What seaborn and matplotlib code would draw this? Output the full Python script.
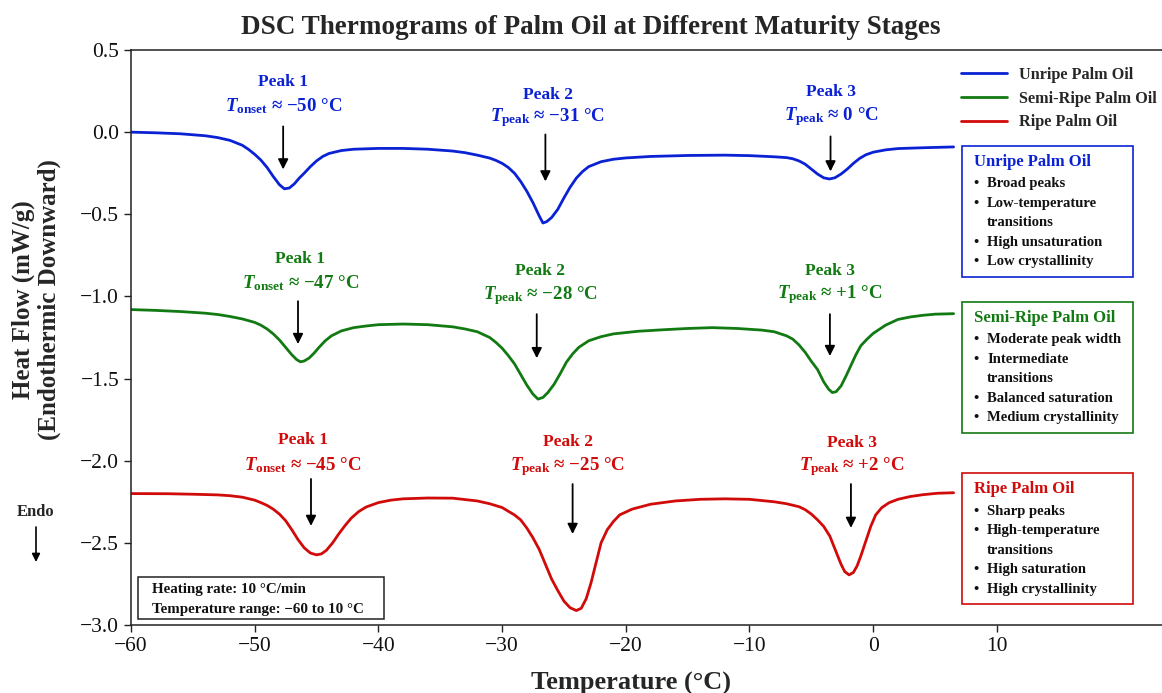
import numpy as np
import pandas as pd
import matplotlib
matplotlib.use('Agg')
import matplotlib.pyplot as plt
from matplotlib.patches import Rectangle, FancyArrowPatch
import seaborn as sns

sns.set_style('ticks')
plt.rcParams['font.family'] = ['Liberation Serif', 'DejaVu Serif']
plt.rcParams['mathtext.fontset'] = 'custom'
plt.rcParams['mathtext.rm'] = 'Liberation Serif:bold'
plt.rcParams['mathtext.it'] = 'Liberation Serif:italic:bold'
plt.rcParams['mathtext.bf'] = 'Liberation Serif:bold'

W, H = 1162, 693

# ---------------------------------------------------------------- data
SAMPLES = ['Unripe Palm Oil', 'Semi-Ripe Palm Oil', 'Ripe Palm Oil']
COLORS = ['#0a22d4', '#127a12', '#d10a0a']

UNRIPE_T = [-60, -58, -56, -54, -53, -52, -51, -50.5, -50, -49.5,
            -49, -48.5, -48, -47.6, -47.2, -46.8, -46.4, -46, -45.5, -45,
            -44.5, -44, -43, -42, -40, -38, -36, -34, -33, -32,
            -31, -30.5, -30, -29.5, -29, -28.5, -28, -27.5, -27, -26.7,
            -26.4, -26, -25.5, -25, -24.5, -24, -23.5, -23, -22, -21,
            -20, -18, -15, -12, -10, -8, -7, -6.5, -6, -5.5,
            -5, -4.5, -4, -3.55, -3.1, -2.6, -2.1, -1.6, -1.1, -0.6,
            0, 1, 2, 4, 6.5]
UNRIPE_HF = [0.000, -0.004, -0.010, -0.022, -0.033, -0.050, -0.080, -0.105, -0.135, -0.170,
             -0.215, -0.270, -0.320, -0.345, -0.340, -0.315, -0.280, -0.250, -0.210, -0.175,
             -0.148, -0.130, -0.112, -0.104, -0.099, -0.099, -0.104, -0.115, -0.125, -0.140,
             -0.158, -0.172, -0.190, -0.215, -0.250, -0.300, -0.360, -0.430, -0.510, -0.553,
             -0.545, -0.520, -0.470, -0.400, -0.335, -0.280, -0.240, -0.210, -0.180, -0.165,
             -0.157, -0.148, -0.142, -0.140, -0.143, -0.150, -0.155, -0.162, -0.175, -0.195,
             -0.225, -0.255, -0.278, -0.285, -0.278, -0.255, -0.225, -0.190, -0.160, -0.138,
             -0.122, -0.108, -0.100, -0.095, -0.090]

SEMI_T = [-60, -58, -56, -54, -53, -52, -51, -50, -49.5, -49,
          -48.5, -48, -47.5, -47, -46.6, -46.3, -46, -45.6, -45.2, -44.8,
          -44.3, -43.8, -43, -42, -41, -40, -38, -36, -34, -33,
          -32, -31, -30.5, -30, -29.5, -29, -28.5, -28, -27.5, -27.1,
          -26.7, -26.3, -25.8, -25.3, -24.8, -24.3, -23.8, -23, -22, -21,
          -19, -17, -15, -13, -11, -9, -8, -7, -6.5, -6,
          -5.5, -5, -4.5, -4, -3.6, -3.3, -3.0, -2.6, -2.2, -1.8,
          -1.4, -1, -0.5, 0, 1, 2, 3, 4, 5, 6.5]
SEMI_HF = [-1.080, -1.085, -1.092, -1.102, -1.110, -1.122, -1.137, -1.158, -1.175, -1.198,
           -1.228, -1.265, -1.310, -1.355, -1.385, -1.398, -1.393, -1.375, -1.345, -1.310,
           -1.270, -1.240, -1.210, -1.190, -1.180, -1.172, -1.168, -1.172, -1.185, -1.198,
           -1.215, -1.250, -1.280, -1.315, -1.360, -1.410, -1.475, -1.540, -1.595, -1.625,
           -1.615, -1.585, -1.535, -1.470, -1.400, -1.350, -1.310, -1.270, -1.245, -1.228,
           -1.212, -1.203, -1.195, -1.190, -1.195, -1.205, -1.215, -1.240, -1.260, -1.295,
           -1.340, -1.395, -1.445, -1.520, -1.565, -1.585, -1.580, -1.545, -1.485, -1.420,
           -1.355, -1.300, -1.260, -1.225, -1.175, -1.140, -1.125, -1.115, -1.108, -1.105]

RIPE_T = [-60, -57, -55, -53, -52, -51, -50, -49.5, -49, -48.5,
          -48, -47.5, -47, -46.5, -46, -45.5, -45, -44.6, -44.2, -43.7,
          -43.2, -42.7, -42.2, -41.6, -41, -40, -39, -38, -36, -34,
          -32, -31, -30, -29, -28.5, -28, -27.5, -27, -26.5, -26,
          -25.5, -25, -24.5, -24, -23.6, -23.2, -22.8, -22.4, -22, -21.5,
          -21, -20.5, -19.5, -18, -16, -14, -12, -10, -8, -7,
          -6, -5.5, -5, -4.5, -4, -3.5, -3, -2.6, -2.3, -1.95,
          -1.6, -1.3, -1.0, -0.6, -0.2, 0.2, 0.7, 1.3, 2, 3,
          4, 5.2, 6.5]
RIPE_HF = [-2.200, -2.201, -2.204, -2.208, -2.213, -2.222, -2.240, -2.255, -2.272, -2.295,
           -2.325, -2.365, -2.420, -2.480, -2.530, -2.562, -2.573, -2.567, -2.545, -2.500,
           -2.445, -2.395, -2.350, -2.310, -2.282, -2.255, -2.240, -2.232, -2.227, -2.228,
           -2.245, -2.262, -2.285, -2.330, -2.360, -2.410, -2.470, -2.540, -2.630, -2.720,
           -2.790, -2.855, -2.895, -2.912, -2.898, -2.840, -2.740, -2.620, -2.500, -2.420,
           -2.370, -2.330, -2.295, -2.265, -2.245, -2.235, -2.232, -2.235, -2.250, -2.262,
           -2.280, -2.298, -2.325, -2.360, -2.400, -2.460, -2.555, -2.630, -2.675, -2.695,
           -2.680, -2.640, -2.580, -2.490, -2.400, -2.330, -2.285, -2.255, -2.235, -2.218,
           -2.207, -2.198, -2.195]

PEAK_NAMES = ['Peak 1', 'Peak 2', 'Peak 3']
PEAK_KINDS = ['onset', 'peak', 'peak']
UNRIPE_PEAK_TEMPS = ['−50', '−31', '0']
SEMI_PEAK_TEMPS = ['−47', '−28', '+1']
RIPE_PEAK_TEMPS = ['−45', '−25', '+2']

UNRIPE_NOTES = ['Broad peaks', 'Low-temperature\ntransitions', 'High unsaturation', 'Low crystallinity']
SEMI_NOTES = ['Moderate peak width', 'Intermediate\ntransitions', 'Balanced saturation', 'Medium crystallinity']
RIPE_NOTES = ['Sharp peaks', 'High-temperature\ntransitions', 'High saturation', 'High crystallinity']

CONDITIONS = ['Heating rate: 10 °C/min', 'Temperature range: −60 to 10 °C']

# ---------------------------------------------------------------- layout
# annotation placement in data units: (text x, "Peak" y, T-line y, arrow x, arrow tail y, arrow tip y)
ANNOT_POS = [
    [(-47.7, 0.308, 0.160, -47.7, 0.035, -0.227),
     (-26.3, 0.229, 0.087, -26.5, -0.014, -0.300),
     (-3.4, 0.247, 0.093, -3.45, -0.026, -0.239)],
    [(-46.3, -0.774, -0.922, -46.5, -1.029, -1.290),
     (-26.9, -0.846, -0.994, -27.2, -1.108, -1.376),
     (-3.5, -0.846, -0.988, -3.5, -1.108, -1.363)],
    [(-46.1, -1.874, -2.028, -45.45, -2.111, -2.397),
     (-24.7, -1.886, -2.034, -24.3, -2.142, -2.446),
     (-1.75, -1.892, -2.034, -1.8, -2.142, -2.409)],
]
BOX_TOPS = [146, 302, 473]  # pixels from the top of the figure


def fpx(x, y):
    """pixel position (from top-left) -> figure fraction"""
    return x / W, 1 - y / H


df = pd.concat([
    pd.DataFrame({'T': UNRIPE_T, 'HF': UNRIPE_HF, 'sample': SAMPLES[0]}),
    pd.DataFrame({'T': SEMI_T, 'HF': SEMI_HF, 'sample': SAMPLES[1]}),
    pd.DataFrame({'T': RIPE_T, 'HF': RIPE_HF, 'sample': SAMPLES[2]}),
], ignore_index=True)

fig = plt.figure(figsize=(W / 100, H / 100), dpi=100)
fig.patch.set_facecolor('white')
ax_left, ax_bottom = fpx(131, 625)
ax = fig.add_axes([ax_left, ax_bottom, 85 * 12.37 / W, 575 / H])

sns.lineplot(data=df, x='T', y='HF', hue='sample', hue_order=SAMPLES,
             palette=COLORS, lw=2.0, ax=ax, sort=True)

ax.set_xlim(-60, 25)
ax.set_ylim(-3.0, 0.5)
ax.set_xticks(np.arange(-60, 11, 10))
ax.set_yticks(np.arange(-3.0, 0.51, 0.5))
ax.tick_params(axis='both', labelsize=15.5, length=5, width=1.0, direction='out',
               color='#222222', labelcolor='#111111')
for s in ax.spines.values():
    s.set_color('#222222')
    s.set_linewidth(1.1)
ax.set_xlabel('')
ax.set_ylabel('')

# legend
ax.legend(loc='upper left', bbox_to_anchor=fpx(961, 67), bbox_transform=fig.transFigure,
          frameon=False, borderpad=0, borderaxespad=0, handlelength=2.85,
          handletextpad=0.7, labelspacing=0.47,
          prop={'family': 'Liberation Serif', 'weight': 'bold', 'size': 11.7})

# peak annotations
temps_all = [UNRIPE_PEAK_TEMPS, SEMI_PEAK_TEMPS, RIPE_PEAK_TEMPS]
for si, color in enumerate(COLORS):
    for pi in range(3):
        tx, y1, y2, axx, ytail, ytip = ANNOT_POS[si][pi]
        ax.text(tx, y1, PEAK_NAMES[pi], color=color, fontsize=12.5, fontweight='bold',
                ha='center', va='center')
        lbl = r'$T_{\mathrm{' + PEAK_KINDS[pi] + r'}}$ ≈ ' + temps_all[si][pi] + ' °C'
        ax.text(tx, y2, lbl, color=color, fontsize=13.6, fontweight='bold',
                ha='center', va='center')
        ax.annotate('', xy=(axx, ytip), xytext=(axx, ytail),
                    arrowprops=dict(arrowstyle='-|>', color='black', lw=1.3,
                                    mutation_scale=15, shrinkA=0, shrinkB=0))

# characteristic boxes on the right
notes_all = [UNRIPE_NOTES, SEMI_NOTES, RIPE_NOTES]
for si, color in enumerate(COLORS):
    top = BOX_TOPS[si]
    x0, y0 = fpx(962, top + 131)
    fig.add_artist(Rectangle((x0, y0), 171 / W, 131 / H, transform=fig.transFigure,
                             fill=True, facecolor='white', edgecolor=color, lw=1.2))
    fig.text(*fpx(974.5, top + 16), SAMPLES[si], color=color, fontsize=12,
             fontweight='bold', ha='left', va='center')
    row = 0
    for note in notes_all[si]:
        for li, part in enumerate(note.split('\n')):
            ypx = top + 38 + 19.5 * row
            if li == 0:
                fig.text(*fpx(976.5, ypx), '•', fontsize=10.5, fontweight='bold',
                         ha='center', va='center', color='#111111')
            fig.text(*fpx(987, ypx), part, fontsize=10.5, fontweight='bold',
                     ha='left', va='center', color='#111111')
            row += 1

# experimental conditions box
bx, by = fpx(138, 619)
fig.add_artist(Rectangle((bx, by), 246 / W, 42 / H, transform=fig.transFigure,
                         facecolor='white', edgecolor='#222222', lw=1.1))
for i, line in enumerate(CONDITIONS):
    fig.text(*fpx(152.5, 590 + 19 * i), line, fontsize=10.8, fontweight='bold',
             ha='left', va='center', color='#111111')

# Endo marker
fig.text(*fpx(36, 512), 'Endo', fontsize=12, fontweight='bold', ha='center', va='center')
fig.add_artist(FancyArrowPatch(
    fpx(36, 527), fpx(36, 562), transform=fig.transFigure, arrowstyle='-|>',
    mutation_scale=12, color='black', lw=1.2, shrinkA=0, shrinkB=0))

# titles and axis labels
fig.text(*fpx(591, 27), 'DSC Thermograms of Palm Oil at Different Maturity Stages',
         fontsize=19.5, fontweight='bold', ha='center', va='center')
fig.text(*fpx(631, 683), 'Temperature (°C)', fontsize=19, fontweight='bold',
         ha='center', va='center')
fig.text(*fpx(36, 300), 'Heat Flow (mW/g)\n(Endothermic Downward)', fontsize=18,
         fontweight='bold', rotation=90, ha='center', va='center', multialignment='center',
         linespacing=1.15)

fig.savefig('out.png', dpi=100, facecolor='white')
